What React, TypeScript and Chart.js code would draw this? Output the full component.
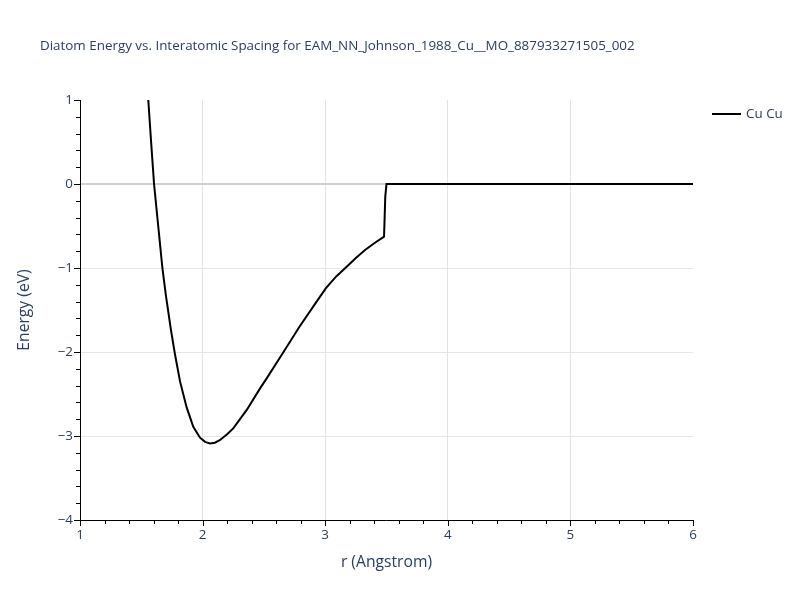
import React, { useEffect, useRef } from "react";
import { Chart, registerables } from "chart.js";

Chart.register(...registerables);

const rValues = [1.557, 1.58, 1.604, 1.64, 1.672, 1.7, 1.742, 1.775, 1.816, 1.87, 1.924, 1.979, 2.02, 2.06, 2.1, 2.14, 2.2, 2.25, 2.36, 2.47, 2.52, 2.66, 2.79, 2.93, 3.006, 3.09, 3.175, 3.25, 3.325, 3.4, 3.48, 3.49, 3.5, 4.0, 4.5, 5.0, 5.5, 6.0];
const energyValues = [1.0, 0.5, 0.0, -0.53, -1.0, -1.32, -1.74, -2.03, -2.35, -2.66, -2.89, -3.02, -3.07, -3.09, -3.08, -3.05, -2.98, -2.91, -2.69, -2.43, -2.32, -2.0, -1.7, -1.4, -1.24, -1.1, -0.985, -0.88, -0.786, -0.705, -0.627, -0.15, 0.0, 0.0, 0.0, 0.0, 0.0, 0.0];
const seriesLabel = "Cu Cu";
const titleText = "Diatom Energy vs. Interatomic Spacing for EAM_NN_Johnson_1988_Cu__MO_887933271505_002";
const xTitle = "r (Angstrom)";
const yTitle = "Energy (eV)";
const xMajorTicks = [1, 2, 3, 4, 5, 6];
const yMajorTicks = [-4, -3, -2, -1, 0, 1];
const xMinorTicks = [1.2, 1.4, 1.6, 1.8, 2.2, 2.4, 2.6, 2.8, 3.2, 3.4, 3.6, 3.8, 4.2, 4.4, 4.6, 4.8, 5.2, 5.4, 5.6, 5.8];
const yMinorTicks = [-3.8, -3.6, -3.4, -3.2, -2.8, -2.6, -2.4, -2.2, -1.8, -1.6, -1.4, -1.2, -0.8, -0.6, -0.4, -0.2, 0.2, 0.4, 0.6, 0.8];

const FONT = "'Open Sans', verdana, arial, sans-serif";
const TEXT = "#2a3f5f";

const decorPlugin = {
  id: "decor",
  afterDraw(chart: any) {
    const ctx = chart.ctx;
    const xs = chart.scales.x;
    const ys = chart.scales.y;
    const area = chart.chartArea;
    ctx.save();
    ctx.strokeStyle = "#000";
    ctx.lineWidth = 1;
    ctx.beginPath();
    ctx.moveTo(area.left + 0.5, area.top);
    ctx.lineTo(area.left + 0.5, area.bottom + 0.5);
    ctx.lineTo(area.right, area.bottom + 0.5);
    ctx.stroke();
    ctx.beginPath();
    for (const v of xMajorTicks) {
      const px = Math.round(xs.getPixelForValue(v)) + 0.5;
      ctx.moveTo(px, area.bottom);
      ctx.lineTo(px, area.bottom + 6);
    }
    for (const v of xMinorTicks) {
      const px = Math.round(xs.getPixelForValue(v)) + 0.5;
      ctx.moveTo(px, area.bottom);
      ctx.lineTo(px, area.bottom + 4);
    }
    for (const v of yMajorTicks) {
      const py = Math.round(ys.getPixelForValue(v)) + 0.5;
      ctx.moveTo(area.left, py);
      ctx.lineTo(area.left - 6, py);
    }
    for (const v of yMinorTicks) {
      const py = Math.round(ys.getPixelForValue(v)) + 0.5;
      ctx.moveTo(area.left, py);
      ctx.lineTo(area.left - 4, py);
    }
    ctx.stroke();
    ctx.fillStyle = TEXT;
    ctx.font = `13.4px ${FONT}`;
    ctx.textAlign = "left";
    ctx.textBaseline = "middle";
    ctx.fillText(titleText, 40, 46);
    ctx.font = `15.7px ${FONT}`;
    ctx.textAlign = "center";
    ctx.fillText(xTitle, (area.left + area.right) / 2, 563);
    ctx.save();
    ctx.translate(25, (area.top + area.bottom) / 2);
    ctx.rotate(-Math.PI / 2);
    ctx.fillText(yTitle, 0, 0);
    ctx.restore();
    const ds = chart.data.datasets[0];
    ctx.strokeStyle = ds.borderColor;
    ctx.lineWidth = 2;
    ctx.beginPath();
    ctx.moveTo(712, 114);
    ctx.lineTo(741, 114);
    ctx.stroke();
    ctx.fillStyle = TEXT;
    ctx.font = `13.4px ${FONT}`;
    ctx.textAlign = "left";
    ctx.fillText(ds.label, 746, 114);
    ctx.restore();
  },
};

export default function App() {
  const ref = useRef<HTMLCanvasElement | null>(null);
  useEffect(() => {
    if (!ref.current) return;
    const points = rValues.map((r, i) => ({ x: r, y: energyValues[i] }));
    const chart = new Chart(ref.current, {
      type: "line",
      data: {
        datasets: [
          {
            label: seriesLabel,
            data: points,
            borderColor: "#000000",
            borderWidth: 2,
            pointRadius: 0,
            tension: 0,
            fill: false,
          },
        ],
      },
      options: {
        animation: false,
        responsive: false,
        maintainAspectRatio: false,
        layout: { padding: { top: 100, right: 107, left: 0, bottom: 0 } },
        plugins: {
          legend: { display: false },
          title: { display: false },
          tooltip: { enabled: false },
        },
        scales: {
          x: {
            type: "linear",
            min: 1,
            max: 6,
            afterFit: (s: any) => {
              s.height = 80;
            },
            afterBuildTicks: (s: any) => {
              s.ticks = xMajorTicks.map((v) => ({ value: v }));
            },
            border: { display: false },
            grid: {
              drawTicks: false,
              color: (c: any) => (c.tick && (c.tick.value === 1 || c.tick.value === 6) ? "rgba(0,0,0,0)" : "#e3e3e3"),
              lineWidth: 1,
            },
            ticks: {
              padding: 7,
              maxRotation: 0,
              font: { family: FONT, size: 13.4 },
              color: TEXT,
              callback: (v: any) => String(v).replace("-", "\u2212"),
            },
          },
          y: {
            type: "linear",
            min: -4,
            max: 1,
            afterFit: (s: any) => {
              s.width = 80;
            },
            afterBuildTicks: (s: any) => {
              s.ticks = yMajorTicks.map((v) => ({ value: v }));
            },
            border: { display: false },
            grid: {
              drawTicks: false,
              color: (c: any) => {
                const v = c.tick ? c.tick.value : null;
                if (v === 0) return "#cfcfcf";
                if (v === 1 || v === -4) return "rgba(0,0,0,0)";
                return "#e6e6e6";
              },
              lineWidth: (c: any) => (c.tick && c.tick.value === 0 ? 2 : 1),
            },
            ticks: {
              padding: 7,
              font: { family: FONT, size: 13.4 },
              color: TEXT,
              callback: (v: any) => String(v).replace("-", "\u2212"),
            },
          },
        },
      },
      plugins: [decorPlugin],
    });
    return () => chart.destroy();
  }, []);
  return (
    <div style={{ width: 800, height: 600, position: "absolute", left: 0, top: 0 }}>
      <canvas ref={ref} width={800} height={600} style={{ width: 800, height: 600 }} />
    </div>
  );
}
